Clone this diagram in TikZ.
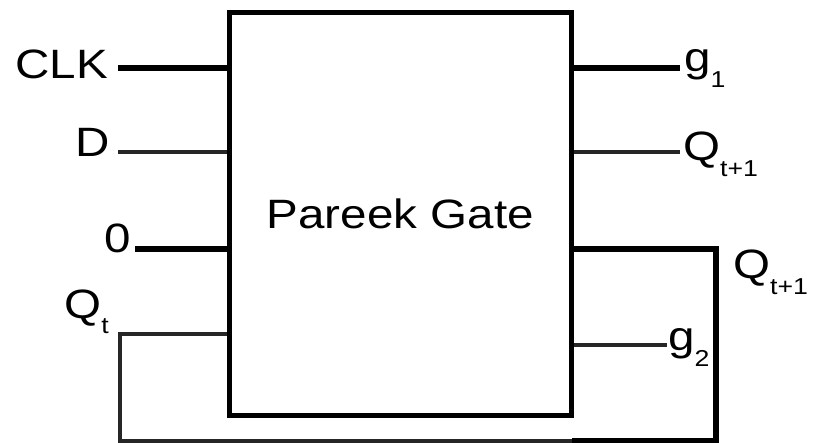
\documentclass[tikz,border=0pt]{standalone}
\usepackage{fontspec}
\setmainfont{Liberation Sans}[FakeStretch=1.16]
\usepackage{tikz}
\usepackage{xcolor}
\newcommand\subs[1]{\raisebox{-16pt}{\fontsize{23}{23}\selectfont #1}}
\tikzset{
    gate-box/.style = {draw=black, line width=5pt, rectangle, minimum width=341.5pt, minimum height=402.5pt, inner sep=0pt, font=\fontsize{41}{45}\selectfont},
    pin-label/.style = {inner sep=0pt, font=\fontsize{41}{45}\selectfont},
    thick-wire/.style = {draw=black, line width=5.5pt},
    thin-wire/.style = {draw=black!85, line width=4pt},
}
\begin{document}
\begin{tikzpicture}[x=1pt, y=-1pt]
\useasboundingbox (0,0) rectangle (813,443);
\node [gate-box] (gate) at (400.25,213.75) {Pareek Gate};

% inputs
\node [pin-label, anchor=base east] (clk) at (108,79) {CLK};
\node [pin-label, anchor=base east] (d) at (110,157) {D};
\node [pin-label, anchor=base east] (zero) at (131,253) {0};
\node [pin-label, anchor=base east] (qt) at (109,318) {Q\subs{t}};
\coordinate (clk-end) at (118,68);
\coordinate (d-end) at (118,152.5);
\coordinate (zero-end) at (135,249);
\draw [thick-wire] (clk-end) -- (clk-end -| gate.west);
\draw [thin-wire] (d-end) -- (d-end -| gate.west);
\draw [thick-wire] (zero-end) -- (zero-end -| gate.west);

% outputs
\node [pin-label, anchor=base west] (g1) at (684,72) {g\subs{1}};
\node [pin-label, anchor=base west] (qnext) at (683,161) {Q\subs{t+1}};
\node [pin-label, anchor=base west] (qfb) at (733,279) {Q\subs{t+1}};
\node [pin-label, anchor=base west] (g2) at (668,350) {g\subs{2}};
\coordinate (g1-end) at (680,68);
\coordinate (qnext-end) at (680,152.5);
\coordinate (g2-end) at (667,345);
\draw [thick-wire] (g1-end -| gate.east) -- (g1-end);
\draw [thin-wire] (qnext-end -| gate.east) -- (qnext-end);
\draw [thin-wire] (g2-end -| gate.east) -- (g2-end);

% feedback loop
\coordinate (fb-out) at (716,249);
\coordinate (fb-corner) at (716,441);
\coordinate (fb-left) at (120,441);
\coordinate (fb-in) at (120,334);
\draw [thick-wire] (fb-out -| gate.east) -- (fb-out) -- (fb-corner) -- ([xshift=-2pt]fb-corner -| gate.east);
\draw [thin-wire, line width=4.5pt] ([xshift=-2pt]fb-corner -| gate.east) -- (fb-left) -- (fb-in) -- (fb-in -| gate.west);
\end{tikzpicture}
\end{document}
